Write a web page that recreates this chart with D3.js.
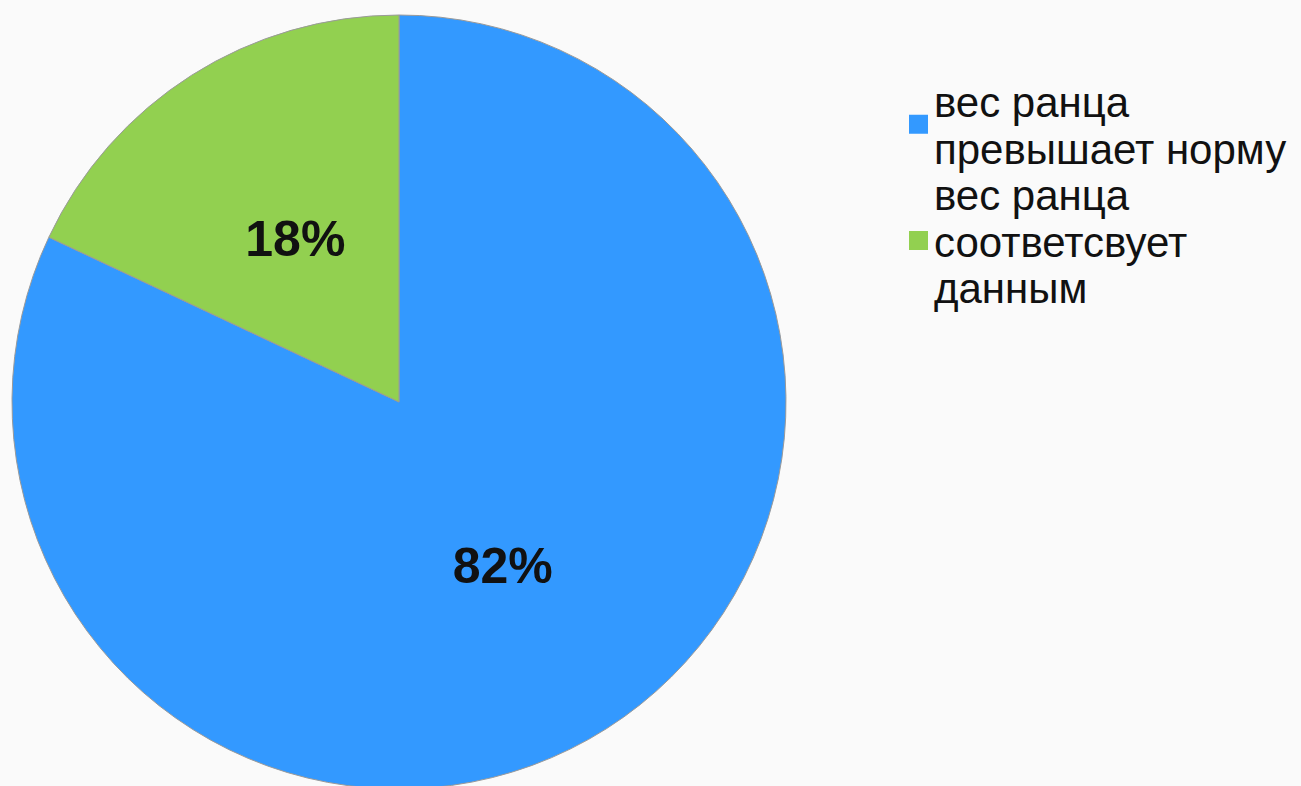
<!DOCTYPE html>
<meta charset="utf-8">
<html>
  <head>
    <script src="https://d3js.org/d3.v7.min.js"></script>
    <style>
      body { margin: 0; background: #fafafa; }
      text { font-family: "Liberation Sans", Arial, sans-serif; }
    </style>
  </head>
  <body>
    <div id="chart"></div>

    <script type="text/javascript">
      // data
      var categories = ["вес ранца превышает норму", "вес ранца соответсвует данным"],
          values = [82, 18],
          labels = ["82%", "18%"],
          legendLines = [["вес ранца", "превышает норму"], ["вес ранца", "соответсвует", "данным"]],
          colors = ["#3399FF", "#92D050"];

      var width = 1301,
          height = 786,
          radius = 387,
          cx = 399,
          cy = 402;

      var svg = d3.select("#chart").append("svg")
          .attr("width", width)
          .attr("height", height);

      svg.append("rect")
          .attr("width", width)
          .attr("height", height)
          .style("fill", "#fafafa");

      var pie = d3.pie().sort(null).value(function(d){ return d; });
      var arc = d3.arc().innerRadius(0).outerRadius(radius);
      var arcs = pie(values);

      var g = svg.append("g")
          .attr("transform", "translate(" + cx + "," + cy + ")");

      g.selectAll(".slice")
          .data(arcs)
          .enter().append("path")
          .attr("class", "slice")
          .attr("d", arc)
          .style("fill", function(d, i){ return colors[i]; })
          .style("stroke", "#9a9a9a")
          .style("stroke-width", "1px");

      g.selectAll(".lbl")
          .data(arcs)
          .enter().append("text")
          .attr("class", "lbl")
          .attr("transform", function(d){ return "translate(" + arc.centroid(d) + ")"; })
          .attr("dy", "0.35em")
          .style("text-anchor", "middle")
          .style("font-size", "50px")
          .style("font-weight", "bold")
          .style("fill", "#111")
          .text(function(d, i){ return labels[i]; });

      // legend
      var lineH = 46.5,
          legX = 909,
          textX = 934,
          firstBaseline = 117;

      var legend = svg.append("g").attr("class", "legend");
      var row = 0;
      categories.forEach(function(c, i){
        var lines = legendLines[i];
        var top = firstBaseline + row * lineH;
        var mid = top + (lines.length - 1) * lineH / 2 - 16;
        legend.append("rect")
            .attr("x", legX)
            .attr("y", mid - 9.5)
            .attr("width", 19)
            .attr("height", 19)
            .style("fill", colors[i]);
        lines.forEach(function(l, j){
          legend.append("text")
              .attr("x", textX)
              .attr("y", top + j * lineH)
              .style("font-size", "42px")
              .style("fill", "#111")
              .text(l);
        });
        row += lines.length;
      });
    </script>
  </body>
</html>
